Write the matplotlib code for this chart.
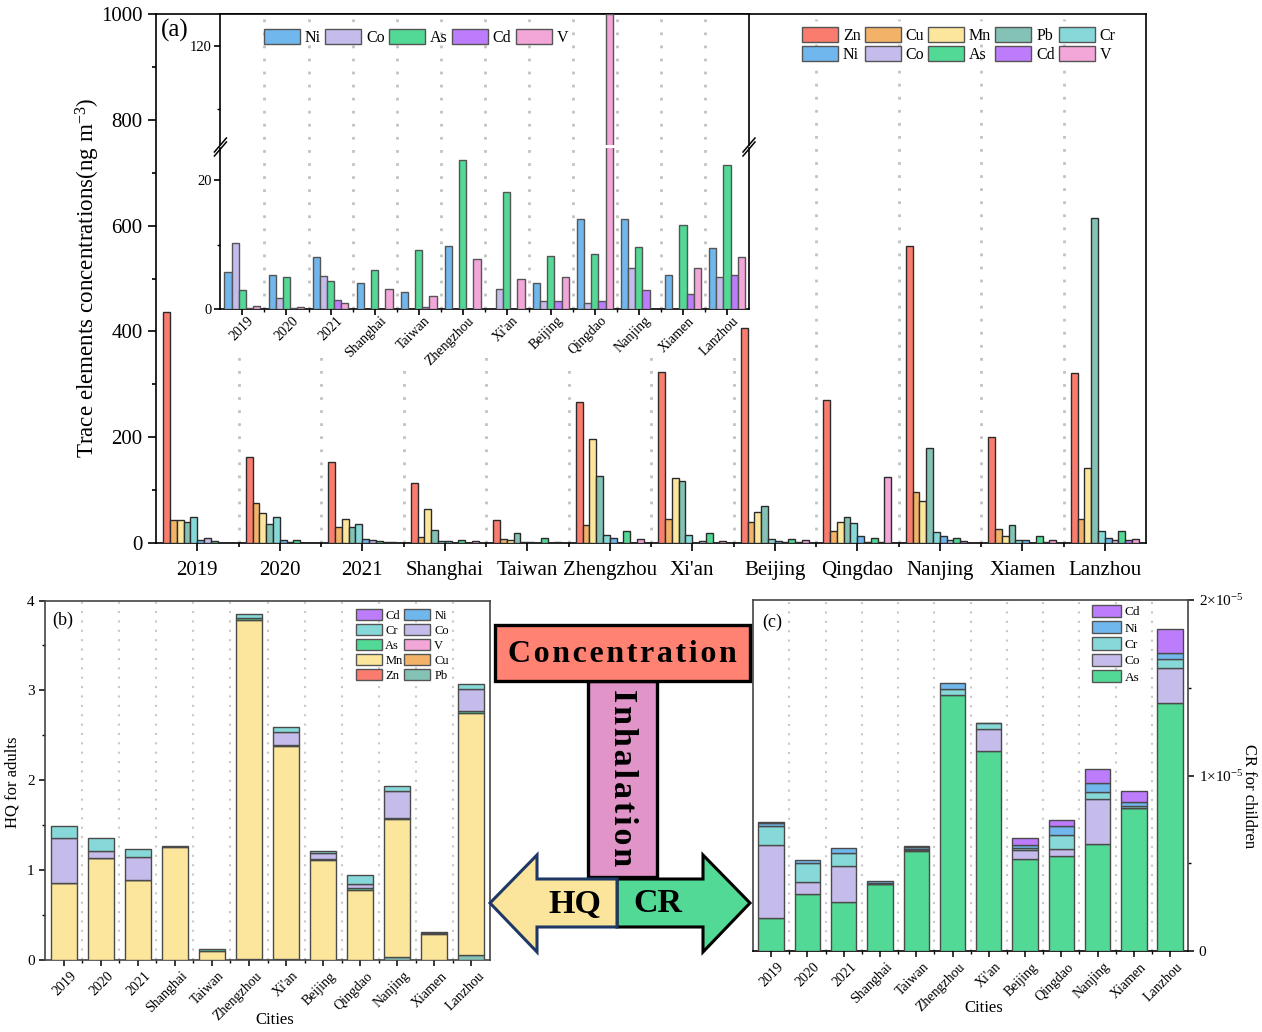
import numpy as np
import matplotlib
matplotlib.use("Agg")
import matplotlib.pyplot as plt
from matplotlib.patches import Patch, Polygon, Rectangle
from matplotlib.transforms import ScaledTranslation

plt.rcParams["font.family"] = ["Liberation Serif", "DejaVu Serif"]
plt.rcParams["mathtext.fontset"] = "custom"
plt.rcParams["mathtext.rm"] = "Liberation Serif"
plt.rcParams["mathtext.it"] = "Liberation Serif"
plt.rcParams["axes.linewidth"] = 1.2

W, H = 1262, 1032

cities = ["2019", "2020", "2021", "Shanghai", "Taiwan", "Zhengzhou", "Xi'an",
          "Beijing", "Qingdao", "Nanjing", "Xiamen", "Lanzhou"]

# concentrations, ng m-3
zn = [436, 162, 154, 114, 43, 267, 324, 406, 270, 561, 201, 321]
cu = [44, 75, 30, 12, 7.5, 34, 46, 40, 22, 96, 27, 46]
mn = [44, 57, 46, 65, 5.5, 197, 122, 58, 40, 80, 13.5, 141]
pb = [40, 36, 30, 25, 19, 127, 118, 70, 50, 179, 34, 615]
cr = [50, 50, 35, 3, 2.5, 16, 16, 7, 38, 20, 5, 23]
ni = [5.8, 5.3, 8.0, 4.0, 2.6, 9.8, 0, 4.1, 14, 14, 5.3, 9.4]
co = [10.2, 1.7, 5.1, 0, 0, 0, 3.1, 1.3, 1.0, 6.3, 0, 5.0]
as_ = [3.0, 5.0, 4.4, 6.0, 9.1, 23.2, 18.1, 8.3, 8.6, 9.7, 13, 22.4]
cd = [0.1, 0.1, 1.4, 0, 0.3, 0, 0, 1.3, 1.2, 3.0, 2.4, 5.3]
v = [0.5, 0.35, 1.0, 3.1, 2.0, 7.8, 4.6, 5.0, 125, 0, 6.4, 8.0]

# HQ for adults, layer heights
hq_pb = [0, 0, 0, 0, 0, 0.015, 0.015, 0.005, 0.005, 0.03, 0, 0.056]
hq_mn = [0.857, 1.13, 0.89, 1.254, 0.104, 3.77, 2.367, 1.112, 0.778, 1.543, 0.286, 2.694]
hq_as = [0.002, 0.005, 0.002, 0.016, 0.018, 0.022, 0.015, 0.011, 0.015, 0.011, 0.011, 0.025]
hq_co = [0.493, 0.082, 0.25, 0, 0, 0, 0.145, 0.059, 0.044, 0.294, 0, 0.235]
hq_cr = [0.14, 0.141, 0.095, 0, 0, 0.041, 0.052, 0.023, 0.108, 0.055, 0.018, 0.066]

# CR for children, layer heights (x 1e-5)
cr_as = [0.186, 0.323, 0.279, 0.38, 0.572, 1.457, 1.138, 0.522, 0.541, 0.61, 0.815, 1.411]
cr_co = [0.42, 0.07, 0.207, 0.002, 0.002, 0, 0.125, 0.052, 0.042, 0.256, 0.002, 0.203]
cr_cr = [0.104, 0.107, 0.072, 0.004, 0.005, 0.034, 0.036, 0.015, 0.078, 0.042, 0.009, 0.048]
cr_ni = [0.021, 0.018, 0.029, 0.014, 0.012, 0.034, 0.002, 0.017, 0.049, 0.049, 0.021, 0.036]
cr_cd = [0.002, 0, 0, 0, 0.007, 0, 0, 0.038, 0.035, 0.08, 0.063, 0.139]

colors = {"Zn": "#F97C6E", "Cu": "#F2B368", "Mn": "#FCE69C", "Pb": "#84C2B5",
          "Cr": "#87D8D9", "Ni": "#6FB7EC", "Co": "#C6BCEC", "As": "#52D995",
          "Cd": "#BD7CFB", "V": "#F3A6D8"}

x = np.arange(len(cities))
seps = x[:-1] + 0.5


def axes_px(fig, left, top, right, bottom):
    return fig.add_axes([left / W, 1 - bottom / H, (right - left) / W, (bottom - top) / H])


def grouped(ax, series, width, edge):
    n = len(series)
    for i, (name, vals) in enumerate(series):
        vals = np.array(vals, dtype=float)
        keep = vals > 0
        ax.bar(x[keep] + (i - (n - 1) / 2) * width, vals[keep], width, color=colors[name],
               edgecolor=edge, linewidth=1.0, zorder=3)


def stacked(ax, series, width=0.7):
    bottom = np.zeros(len(x))
    for name, vals in series:
        vals = np.array(vals, dtype=float)
        keep = vals > 0
        ax.bar(x[keep], vals[keep], width, bottom=bottom[keep], color=colors[name],
               edgecolor="#4a4a4a", linewidth=1.0, zorder=3)
        bottom += vals


def legend(ax, names, ncol, at, size, handle_px, pitch_pad=0.15, colspace=0.3):
    font_px = size * 100 / 72
    handles = [Patch(facecolor=colors[n], edgecolor="#555555", linewidth=1.0, label=n) for n in names]
    return ax.legend(handles=handles, ncol=ncol, loc="upper left", frameon=False,
                     bbox_to_anchor=(at[0] / W, 1 - at[1] / H), bbox_transform=fig.transFigure,
                     fontsize=size, borderpad=0, borderaxespad=0, handlelength=handle_px / font_px,
                     handleheight=1.05, handletextpad=0.3, labelspacing=pitch_pad,
                     columnspacing=colspace)


def shift_labels(ax, dx_px, dy_px=0):
    offset = ScaledTranslation(dx_px / 100, dy_px / 100, fig.dpi_scale_trans)
    for label in ax.get_xticklabels():
        label.set_transform(label.get_transform() + offset)


fig = plt.figure(figsize=(W / 100, H / 100), dpi=100)
fig.patch.set_facecolor("white")

over = fig.add_axes([0, 0, 1, 1], zorder=10)
over.set_xlim(0, W)
over.set_ylim(H, 0)
over.axis("off")
over.patch.set_alpha(0)

# (a) main panel
ax = axes_px(fig, 156, 14, 1146, 543)
ax.vlines(seps, 0, 990, color="#C2C2C2", lw=2, linestyle=(0, (1, 3.7)), zorder=1)
ax.add_patch(Rectangle((190, 15), 559, 333, transform=over.transData, facecolor="white",
                       edgecolor="none", zorder=1.5))
# the two longest inset labels hide the separators a little further down
for gap_x in (403.5, 568.5):
    ax.add_patch(Rectangle((gap_x - 5, 347), 10, 15, transform=over.transData, facecolor="white",
                           edgecolor="none", zorder=1.5))
grouped(ax, [("Zn", zn), ("Cu", cu), ("Mn", mn), ("Pb", pb), ("Cr", cr), ("Ni", ni),
             ("Co", co), ("As", as_), ("Cd", cd), ("V", v)], 0.0825, "#2b2b2b")
ax.set_xlim(-0.5, 11.5)
ax.set_ylim(0, 1000)
ax.set_xticks(x)
ax.set_xticklabels(cities)
ax.set_xticks(seps, minor=True)
ax.set_yticks(np.arange(0, 1001, 200))
ax.set_yticks(np.arange(100, 1000, 200), minor=True)
ax.tick_params(axis="both", which="major", length=5.8, width=1.2, labelsize=15, pad=4)
ax.tick_params(axis="both", which="minor", length=3.2, width=1.2)
ax.tick_params(axis="x", which="major", pad=7)
legend(ax, ["Zn", "Ni", "Cu", "Co", "Mn", "As", "Pb", "Cd", "Cr", "V"], 5, (802, 27), 11.5, 36, colspace=0.26)

# inset with broken axis
inset_series = [("Ni", ni), ("Co", co), ("As", as_), ("Cd", cd), ("V", v)]
low = axes_px(fig, 220.4, 148, 749, 309)
high = axes_px(fig, 220.4, 14, 749, 145)
for a in (low, high):
    a.vlines(seps, 0, 125, color="#C2C2C2", lw=2, linestyle=(0, (1, 3.7)), zorder=1)
    grouped(a, inset_series, 0.163, "#555555")
    a.set_xlim(-0.5, 11.5)
    a.tick_params(axis="both", which="major", length=4, width=1.2, labelsize=10.5, pad=2)
    a.tick_params(axis="both", which="minor", length=2.4, width=1.0)
low.set_ylim(0, 25)
high.set_ylim(104.3, 125)
low.set_yticks([0, 20])
low.set_yticks([10], minor=True)
high.set_yticks([120])
high.set_yticks([110], minor=True)
low.spines["top"].set_visible(False)
high.spines["bottom"].set_visible(False)
high.set_xticks([])
low.set_xticks(x)
low.set_xticks(seps, minor=True)
low.set_xticklabels(cities, rotation=45, ha="right", rotation_mode="anchor", fontsize=10)
shift_labels(low, 5, 3)
legend(high, ["Ni", "Co", "As", "Cd", "V"], 5, (264, 29), 11.5, 36, colspace=0.27)

for bx in (220.4, 749):
    for dy in (-2, 2):
        over.plot([bx - 6, bx + 6], [147 + 7 + dy, 147 - 7 + dy], color="black", lw=1.1)

# (b) HQ
axb = axes_px(fig, 45, 600.5, 490, 960)
axb.vlines(seps, 0, 4, color="#C8C8C8", lw=1.5, linestyle=(0, (1, 3.5)), zorder=1)
stacked(axb, [("Pb", hq_pb), ("Mn", hq_mn), ("As", hq_as), ("Co", hq_co), ("Cr", hq_cr)])
axb.set_ylim(0, 4)
axb.set_yticks([0, 1, 2, 3, 4])
axb.set_yticks([0.5, 1.5, 2.5, 3.5], minor=True)
legend(axb, ["Cd", "Cr", "As", "Mn", "Zn", "Ni", "Co", "V", "Cu", "Pb"], 2, (355.6, 608.5), 9, 26,
       pitch_pad=0.16, colspace=0.15)

# (c) CR
axc = axes_px(fig, 753, 600, 1188.3, 951)
axc.vlines(seps, 0, 2e-5, color="#C8C8C8", lw=1.5, linestyle=(0, (1, 3.5)), zorder=1)
stacked(axc, [(n, np.array(vals) * 1e-5) for n, vals in
              [("As", cr_as), ("Co", cr_co), ("Cr", cr_cr), ("Ni", cr_ni), ("Cd", cr_cd)]])
axc.set_ylim(0, 2e-5)
axc.yaxis.tick_right()
axc.set_yticks([0, 1e-5, 2e-5])
axc.set_yticklabels(["0", r"1×10$^{\mathregular{-5}}$", r"2×10$^{\mathregular{-5}}$"])
axc.set_yticks([0.5e-5, 1.5e-5], minor=True)
legend(axc, ["Cd", "Ni", "Cr", "Co", "As"], 1, (1091.7, 604.5), 9.6, 29, pitch_pad=0.2)

for a in (axb, axc):
    a.set_xlim(-0.5, 11.5)
    a.set_xticks(x)
    a.set_xticklabels(cities, rotation=45, ha="right", rotation_mode="anchor")
    a.set_xticks(seps, minor=True)
    a.tick_params(axis="both", which="major", length=4.5, width=1.1, labelsize=11, pad=3)
    a.tick_params(axis="both", which="minor", length=2.5, width=1.0)
    for label in a.get_xticklabels():
        label.set_fontsize(10)
    shift_labels(a, 6, 1)
    for s in ("left", "bottom", "top", "right"):
        a.spines[s].set_color("#444444")
axc.spines["bottom"].set_color("black")

# axis titles and panel letters
over.text(88, 278, r"Trace elements concentrations(ng m$^{\mathregular{-3}}$)", rotation=90,
          ha="center", va="center", fontsize=16.6)
over.text(161, 30, "(a)", ha="left", va="center", fontsize=18)
over.text(52, 620, "(b)", ha="left", va="center", fontsize=13)
over.text(762, 622, "(c)", ha="left", va="center", fontsize=13)
over.text(13, 782, "HQ for adults", rotation=90, ha="center", va="center", fontsize=12)
over.text(275, 1020, "Cities", ha="center", va="center", fontsize=12)
over.text(984, 1008, "Cities", ha="center", va="center", fontsize=12)
over.text(1249, 796, "CR for children", rotation=-90, ha="center", va="center", fontsize=12)

# centre diagram
over.add_patch(Rectangle((588, 681), 69, 196, facecolor="#E194C8", edgecolor="black", lw=2.4))
over.add_patch(Rectangle((495, 625), 255, 56, facecolor="#FF8272", edgecolor="black", lw=2.4))
over.add_patch(Polygon([(617, 927), (703, 927), (703, 952), (750, 903), (703, 855), (703, 879), (617, 879)],
                       closed=True, facecolor="#52D995", edgecolor="black", lw=2.2))
over.add_patch(Polygon([(617, 879), (537, 879), (537, 855), (490, 903), (537, 952), (537, 927), (617, 927)],
                       closed=True, facecolor="#FBE59C", edgecolor="#1F3864", lw=2.2))
over.text(622.5, 655, "\u200a".join("Concentration"), ha="center", va="center", fontsize=23, fontweight="bold")
over.text(622, 778, "\u200a".join("Inhalation"), rotation=-90, ha="center", va="center",
          fontsize=24.5, fontweight="bold")
over.text(575, 905, "HQ", ha="center", va="center", fontsize=24.5, fontweight="bold")
over.text(658, 904, "CR", ha="center", va="center", fontsize=24.5, fontweight="bold")

fig.savefig("out.png", dpi=100)
